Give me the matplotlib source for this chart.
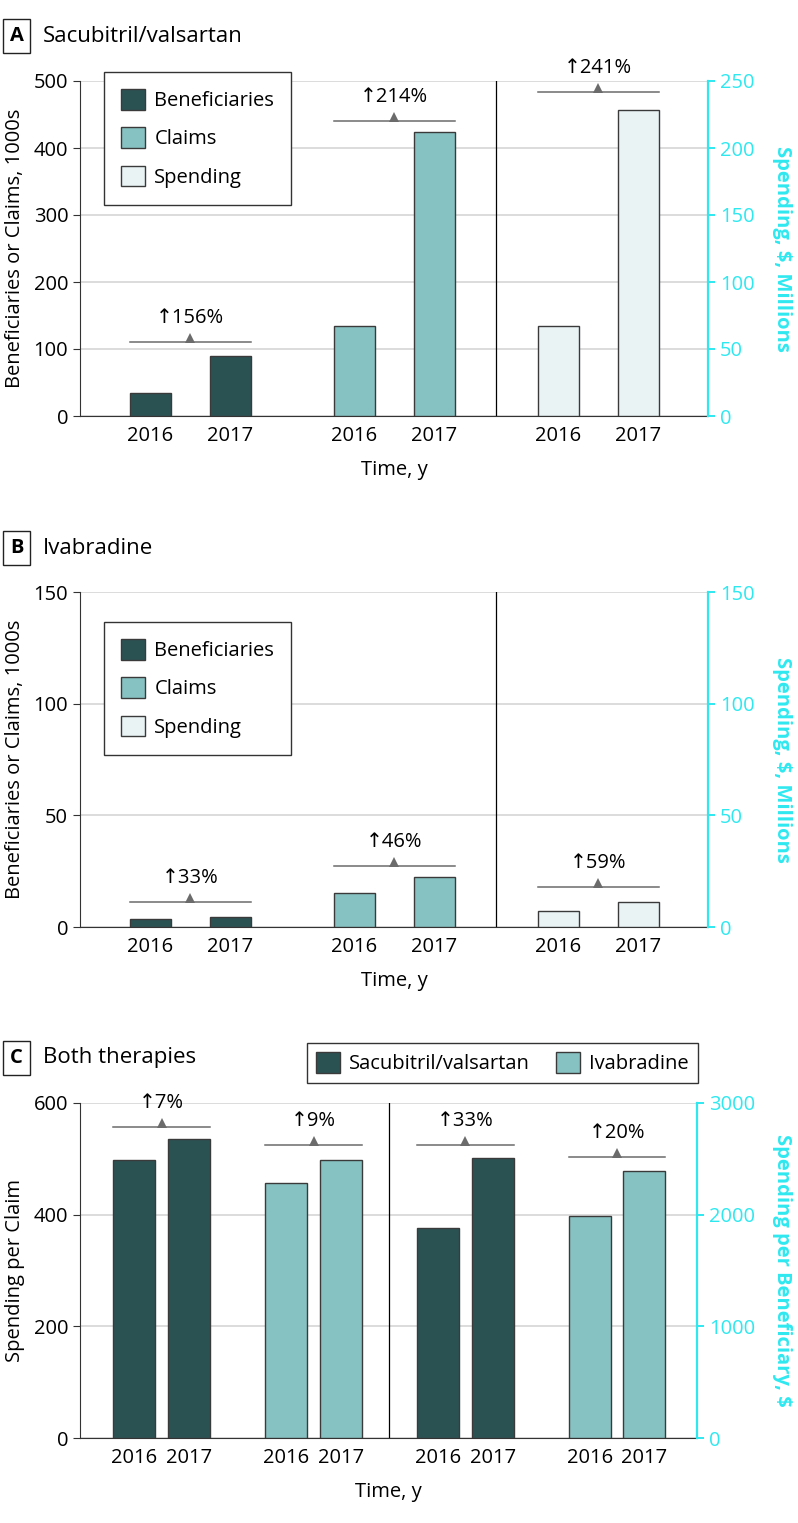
#
# Medicare Part D use of sacubitril/valsartan and ivabradine, 2016 vs 2017
#

import matplotlib
matplotlib.use('Agg')
from matplotlib import pyplot as plt
from matplotlib.patches import Patch
from matplotlib.transforms import offset_copy

plt.rcParams['font.family'] = ['Open Sans', 'DejaVu Sans']
plt.rcParams['font.size'] = 14.5

# colours
DARK = '#2b5253'
MID = '#86c2c1'
LIGHT = '#e9f3f4'
CYAN = '#2ee8f0'
EDGE = '#3a3a3a'
GRID = '#d9d9d9'
TRI = '#6b6b6b'
FS = 14.5

years = ['2016', '2017']

# A - sacubitril/valsartan
a_series = ['Beneficiaries', 'Claims', 'Spending']
a_beneficiaries = [35, 89.6]      # 1000s
a_claims = [135, 424]             # 1000s
a_spending = [67, 228.5]          # $ millions
a_change = ['156%', '214%', '241%']

# B - ivabradine
b_series = ['Beneficiaries', 'Claims', 'Spending']
b_beneficiaries = [3.5, 4.7]
b_claims = [15.2, 22.3]
b_spending = [7.0, 11.1]
b_change = ['33%', '46%', '59%']

# C - both therapies
c_drugs = ['Sacubitril/valsartan', 'Ivabradine']
c_claim_sac = [498, 535]          # spending per claim, $
c_claim_iva = [457, 498]
c_benef_sac = [1880, 2505]        # spending per beneficiary, $
c_benef_iva = [1990, 2390]
c_change = ['7%', '9%', '33%', '20%']

W, H = 798, 1523
fig = plt.figure(figsize=(W / 100, H / 100), dpi=100)


def rect(left, top, right, bottom):
    return [left / W, 1 - bottom / H, (right - left) / W, (bottom - top) / H]


#
# heading - boxed letter and panel title
#
def heading(letter, title, y):
    fig.text(16.5 / W, 1 - y / H, letter, ha='center', va='center',
             fontsize=14.5, fontweight='bold',
             bbox=dict(boxstyle='square,pad=0.35', fc='white', ec='#222', lw=1))
    fig.text(43 / W, 1 - y / H, title, ha='left', va='center', fontsize=16)


#
# panel - bars on a left axis and a cyan right axis
#
def panel(pos, groups, colors, n_left, centers, bw, divider,
          lmax, lticks, rmax, rticks, llabel, rlabel, changes, offs):
    ax = fig.add_axes(pos)
    tw = ax.twinx()
    xr = pos[2] * W
    ax.set_xlim(0, xr)
    ax.set_ylim(0, lmax)
    tw.set_ylim(0, rmax)
    ax.set_yticks(lticks)
    tw.set_yticks(rticks)

    ax.yaxis.grid(True, color=GRID, lw=1.3)
    ax.set_axisbelow(True)
    for s in ['top', 'right']:
        ax.spines[s].set_visible(False)
    for s in ['top', 'left', 'bottom']:
        tw.spines[s].set_visible(False)
    ax.spines['left'].set_color('#333')
    ax.spines['bottom'].set_color('#333')
    tw.spines['right'].set_color(CYAN)
    tw.spines['right'].set_linewidth(1.6)
    ax.tick_params(axis='y', color='#333', length=5, labelsize=FS)
    tw.tick_params(axis='y', colors=CYAN, length=5, width=1.4, labelsize=FS)
    ax.tick_params(axis='x', length=0, labelsize=FS, pad=7)

    ax.axvline(divider, color='k', lw=0.9, zorder=1)

    xt, xl = [], []
    for g, vals in enumerate(groups):
        a = ax if g < n_left else tw
        xs = centers[2 * g:2 * g + 2]
        a.bar(xs, vals, bw, color=colors[g], edgecolor=EDGE, lw=1, zorder=3)
        xt += xs
        xl += years

        # change marker: line, triangle and label above the pair
        top = max(vals)
        x0, x1 = xs[0] - bw / 2, xs[1] + bw / 2
        tr = offset_copy(a.transData, fig=fig, y=offs[g], units='dots')
        a.plot([x0, x1], [top, top], color=TRI, lw=1.1, transform=tr,
               zorder=4, clip_on=False)
        tr2 = offset_copy(a.transData, fig=fig, y=offs[g] + 4, units='dots')
        a.plot([(x0 + x1) / 2], [top], marker='^', ms=7.5, color=TRI, mew=0,
               transform=tr2, zorder=4, clip_on=False)
        tr3 = offset_copy(a.transData, fig=fig, y=offs[g] + 24, units='dots')
        a.text((x0 + x1) / 2, top, '\u2191' + changes[g], ha='center',
               va='center', fontsize=FS, transform=tr3, zorder=4)

    ax.set_xticks(xt)
    ax.set_xticklabels(xl)
    ax.set_xlabel('Time, y', fontsize=FS, labelpad=10)
    ax.set_ylabel(llabel, fontsize=FS, labelpad=6)
    tw.set_ylabel(rlabel, fontsize=FS, color=CYAN, fontweight='bold',
                  rotation=270, labelpad=27)
    return ax


def legend(ax, colors, labels, anchor, loc, ncol=1):
    ax.legend(handles=[Patch(fc=c, ec=EDGE, lw=1) for c in colors],
              labels=labels, loc=loc, ncol=ncol,
              bbox_to_anchor=(anchor[0] / W, 1 - anchor[1] / H),
              bbox_transform=fig.transFigure, borderaxespad=0,
              fancybox=False, edgecolor='#333', framealpha=1, fontsize=FS,
              handlelength=1.2, handleheight=1.2, labelspacing=0.8,
              handletextpad=0.45, borderpad=0.85 if ncol == 1 else 0.45,
              columnspacing=1.3)


# centres and widths in pixels from the axes' left edge
ab_centers = [70, 150, 274.5, 354, 478.5, 558]
c_centers = [54, 109, 206, 261, 358, 413, 510, 564.5]

# A
heading('A', 'Sacubitril/valsartan', 36)
axa = panel(rect(80, 81, 708, 416),
            [a_beneficiaries, a_claims, a_spending], [DARK, MID, LIGHT], 2,
            ab_centers, 41, 416, 500, range(0, 501, 100), 250,
            range(0, 251, 50), 'Beneficiaries or Claims, 1000s',
            'Spending, $, Millions', a_change, [14, 11, 18])
legend(axa, [DARK, MID, LIGHT], a_series, (104, 72), 'upper left')

# B
heading('B', 'Ivabradine', 548)
axb = panel(rect(80, 592, 708, 927),
            [b_beneficiaries, b_claims, b_spending], [DARK, MID, LIGHT], 2,
            ab_centers, 41, 416, 150, range(0, 151, 50), 150,
            range(0, 151, 50), 'Beneficiaries or Claims, 1000s',
            'Spending, $, Millions', b_change, [15, 11, 15])
legend(axb, [DARK, MID, LIGHT], b_series, (104, 622), 'upper left')

# C
heading('C', 'Both therapies', 1058)
axc = panel(rect(80, 1103, 697, 1438),
            [c_claim_sac, c_claim_iva, c_benef_sac, c_benef_iva],
            [DARK, MID, DARK, MID], 2, c_centers, 42, 309,
            600, range(0, 601, 200), 3000, range(0, 3001, 1000),
            'Spending per Claim', 'Spending per Beneficiary, $',
            c_change, [12, 15, 13, 14])
legend(axc, [DARK, MID], c_drugs, (698, 1043), 'upper right', ncol=2)

fig.savefig('out.png', dpi=100)
